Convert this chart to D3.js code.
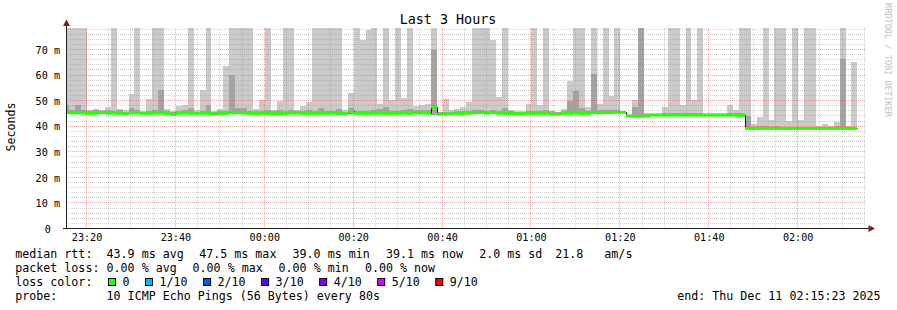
<!DOCTYPE html>
<html><head><meta charset="utf-8">
<script src="https://cdn.jsdelivr.net/npm/d3@7"></script>
<style>
html,body{margin:0;padding:0;background:#fff;}
svg{display:block;}
text{font-family:"DejaVu Sans Mono",monospace;white-space:pre;}
</style></head><body>
<svg id="chart" width="897" height="310"></svg>
<script>
// ---------- data ----------
const title = "Last 3 Hours";
const yAxisTitle = "Seconds";
const watermark = "RRDTOOL / TOBI OETIKER";
const viewStart = "2025-12-10T23:15:23Z";
const viewEnd = "2025-12-11T02:15:23Z";
const firstStep = "2025-12-10T23:14:47Z";
const stepSeconds = 80;
const yTop = 78.2; // ms at the top of the graph
const yTickValues = [0, 10, 20, 30, 40, 50, 60, 70];
const yTickLabels = ["0", "10 m", "20 m", "30 m", "40 m", "50 m", "60 m", "70 m"];
const xTickLabels = ["23:20", "23:40", "00:00", "00:20", "00:40", "01:00", "01:20", "01:40", "02:00"];

// per 80 s step, ms (100 = beyond the top of the graph)
const rttMedian = [45.3,45.2,45.2,45.1,45.0,45.0,45.3,45.1,45.1,45.0,
 44.8,45.2,45.2,45.0,45.0,45.1,45.1,45.0,44.6,45.0,
 45.1,45.0,45.0,45.1,45.0,44.7,45.0,45.0,45.2,45.3,
 45.2,45.0,44.9,45.0,45.0,44.9,44.9,45.0,45.2,45.1,
 45.0,45.0,45.0,45.0,45.0,45.1,44.9,44.8,45.6,45.0,
 45.0,45.0,45.0,45.1,45.0,45.0,45.0,45.1,45.0,45.2,
 45.2,45.0,47.5,44.7,44.8,44.8,45.0,45.0,45.0,45.3,
 45.3,45.1,45.3,45.1,45.0,44.9,44.9,44.9,45.0,45.0,
 45.0,45.1,44.7,44.7,45.0,45.0,45.1,45.0,45.0,45.3,
 45.2,45.3,45.3,45.4,45.4,43.9,43.9,43.9,43.9,44.3,
 44.3,44.3,44.3,44.3,44.3,44.3,44.3,44.3,44.3,44.3,
 44.3,44.3,44.3,44.3,44.1,39.1,39.1,39.1,39.1,39.1,
 39.1,39.1,39.0,39.1,39.1,39.1,39.1,39.1,39.1,39.1,
 39.1,39.1,39.1,39.1];
const rttMax = [100,100,100,100,46.2,46.4,46.0,47.3,100,46.6,
 46.0,52.4,100,45.9,50.3,100,100,46.4,45.6,47.8,
 48.0,100,46.0,54.0,100,45.8,46.4,63.3,100,100,
 100,100,46.5,50.0,100,46.2,49.8,100,100,46.1,
 47.6,49.3,100,100,100,100,100,46.2,52.8,100,
 73.7,77.5,100,48.5,100,50.0,100,51.0,100,47.7,
 48.0,48.3,100,45.5,50.4,46.0,46.4,47.4,49.3,100,
 100,100,73.7,51.3,100,46.2,45.8,45.8,48.5,100,
 48.2,100,45.9,45.4,46.4,57.6,100,100,47.4,100,
 48.5,100,51.7,100,45.9,44.6,50.0,100,45.0,44.8,
 44.8,47.4,100,100,48.0,100,50.0,100,44.8,44.8,
 44.8,44.8,48.2,46.1,100,100,40.7,43.5,100,42.2,
 100,100,42.0,100,42.2,100,100,39.9,40.7,39.9,
 41.3,100,39.8,64.9];
const rttP9 = [48.0,46.0,48.0,46.0,45.6,46.2,45.8,46.0,45.9,46.2,
 45.5,47.0,46.0,45.5,45.8,46.0,54.0,45.7,45.2,45.8,
 46.2,47.0,45.5,45.9,48.1,45.3,45.6,45.9,60.0,47.0,
 47.0,45.9,45.6,45.8,46.0,45.6,46.3,45.9,46.2,45.7,
 45.9,46.0,45.9,47.0,45.8,45.9,46.6,45.4,46.8,45.8,
 45.9,45.8,46.0,46.4,47.2,45.8,45.9,46.0,46.6,46.0,
 46.2,46.0,69.6,45.2,45.5,45.4,45.7,45.9,45.8,46.0,
 46.2,45.9,46.0,45.9,47.0,45.6,45.4,45.4,45.8,45.9,
 45.7,46.0,45.6,45.2,45.8,49.8,53.7,47.0,45.8,60.2,
 46.0,46.2,46.0,46.2,45.7,44.3,47.4,100,44.4,44.6,
 44.6,44.8,44.9,44.8,44.8,44.9,44.8,44.9,44.6,44.6,
 44.6,44.6,44.9,44.8,44.9,43.8,39.6,39.8,39.7,39.6,
 39.9,39.6,39.5,39.6,39.6,39.6,39.6,39.5,39.6,39.5,
 39.7,66.2,39.5,39.6];
const rttMin = [44.8,44.7,44.7,44.7,44.6,44.6,44.8,44.7,44.7,44.6,
 44.3,44.7,44.8,44.6,44.6,44.7,44.6,44.6,44.2,44.6,
 44.7,44.6,44.6,44.7,44.6,44.2,44.6,44.6,44.7,44.8,
 44.7,44.6,44.5,44.6,44.6,44.5,44.5,44.6,44.7,44.7,
 44.6,44.6,44.6,44.6,44.6,44.7,44.5,44.3,44.4,44.6,
 44.6,44.6,44.6,44.7,44.6,44.6,44.6,44.7,44.6,44.8,
 44.8,44.6,44.2,44.3,44.4,44.4,44.6,44.6,44.6,44.8,
 44.8,44.7,44.8,44.7,44.6,44.5,44.5,44.5,44.6,44.6,
 44.6,44.7,44.2,44.3,44.6,44.6,44.5,44.6,44.6,44.8,
 44.7,44.8,44.8,44.9,44.9,43.6,43.6,43.5,43.6,44.0,
 44.0,44.0,44.0,44.0,44.0,44.0,44.0,44.0,44.0,44.0,
 44.0,44.0,44.0,44.0,43.8,38.8,38.8,38.8,38.8,38.8,
 38.8,38.8,38.7,38.8,38.8,38.8,38.8,38.8,38.8,38.8,
 38.8,38.8,38.8,38.8];

const statsRtt = ["median rtt:", "43.9 ms avg", "47.5 ms max", "39.0 ms min", "39.1 ms now", "2.0 ms sd", "21.8   am/s"];
const statsLoss = ["packet loss:", "0.00 % avg", "0.00 % max", "0.00 % min", "0.00 % now"];
const lossTitle = "loss color:";
const lossLabels = ["0", "1/10", "2/10", "3/10", "4/10", "5/10", "9/10"];
const lossColors = ["#26ff00", "#00b8ff", "#0059ff", "#5e00ff", "#7e00ff", "#dd00ff", "#ff0000"];
const probeLine = ["probe:", "10 ICMP Echo Pings (56 Bytes) every 80s"];
const endLabel = "end: Thu Dec 11 02:15:23 2025";
const smokeColors = ["#cacaca", "#a4a4a4"];
const medianColor = "#26ff00";

// ---------- drawing ----------
const svg = d3.select("#chart");
const FONT_AX = 10.15, FONT_LEG = 11.65;
const L = 66, R = 866, TOP = 28, BOT = 228;
const x = d3.scaleUtc().domain([new Date(viewStart), new Date(viewEnd)]).range([L, R]);
const y = d3.scaleLinear().domain([0, yTop]).range([BOT + 0.5, TOP + 0.5]);
const px = v => Math.floor(v) + 0.5;
const rx = v => Math.round(v);
const ry = v => Math.round(v - 0.5);

const t0 = new Date(firstStep).getTime();
const stepMs = stepSeconds * 1000;
const steps = rttMedian.map((m, i) => ({
  a: new Date(t0 + i * stepMs), b: new Date(t0 + (i + 1) * stepMs),
  median: m, min: rttMin[i], p9: rttP9[i], max: rttMax[i]
}));

svg.append("rect").attr("width", 897).attr("height", 310).attr("fill", "#fff");

// clip
svg.append("clipPath").attr("id", "plot").append("rect")
  .attr("x", L + 1).attr("y", TOP).attr("width", R - L - 1).attr("height", BOT - TOP);
const plot = svg.append("g").attr("clip-path", "url(#plot)");

// smoke
const bandRect = (sel, top, bottom, col) => sel
  .attr("x", d => rx(x(d.a))).attr("width", d => rx(x(d.b)) - rx(x(d.a)))
  .attr("y", d => ry(y(top(d)))).attr("height", d => Math.max(1, ry(y(bottom(d))) - ry(y(top(d)))))
  .attr("fill", col).attr("shape-rendering", "crispEdges");
plot.append("g").selectAll("rect").data(steps).join("rect").call(bandRect, d => d.max, d => d.min, smokeColors[0]);
plot.append("g").selectAll("rect").data(steps).join("rect").call(bandRect, d => d.p9, d => d.min, smokeColors[1]);

// grid (drawn over the smoke, as rrdtool does)
const grid = svg.append("g");
const majorTimes = xTickLabels.map(s => {
  const [h, m] = s.split(":").map(Number);
  return new Date(Date.UTC(2025, 11, h >= 12 ? 10 : 11, h, m));
});
const minorTimes = d3.utcMinute.every(5).range(new Date(viewStart), new Date(viewEnd))
  .filter(d => d.getUTCMinutes() % 20 !== 0);
const minorVals = d3.range(2, yTop, 2).filter(v => v % 10 !== 0);
const majorVals = yTickValues.filter(v => v > 0);

const minorStyle = s => s.attr("stroke", "#8f8f8f").attr("stroke-opacity", 0.4).attr("stroke-width", 1).attr("stroke-dasharray", "1,1").attr("shape-rendering", "crispEdges");
const majorStyle = s => s.attr("stroke", "#de5050").attr("stroke-opacity", 0.5).attr("stroke-width", 1).attr("stroke-dasharray", "1,1").attr("shape-rendering", "crispEdges");

grid.selectAll(".hmin").data(minorVals).join("line")
  .attr("x1", L).attr("x2", R).attr("y1", d => px(y(d))).attr("y2", d => px(y(d))).call(minorStyle);
grid.selectAll(".vmin").data(minorTimes).join("line")
  .attr("y1", TOP).attr("y2", BOT).attr("x1", d => px(x(d))).attr("x2", d => px(x(d))).call(minorStyle);
grid.selectAll(".hmaj").data(majorVals).join("line")
  .attr("x1", L).attr("x2", R).attr("y1", d => px(y(d))).attr("y2", d => px(y(d))).call(majorStyle);
grid.selectAll(".vmaj").data(majorTimes).join("line")
  .attr("y1", TOP).attr("y2", BOT).attr("x1", d => px(x(d))).attr("x2", d => px(x(d))).call(majorStyle);

// median dark line
const plot2 = svg.append("g").attr("clip-path", "url(#plot)");
const pts = steps.map(d => [d.a, d.median]).concat([[steps[steps.length - 1].b, steps[steps.length - 1].median]]);
plot2.append("path")
  .attr("d", d3.line().x(d => rx(x(d[0])) + 0.5).y(d => px(y(d[1]))).curve(d3.curveStepAfter)(pts))
  .attr("fill", "none").attr("stroke", "#202020").attr("stroke-width", 1);
// median loss-colour band
plot2.append("g").selectAll("rect").data(steps).join("rect")
  .attr("x", d => rx(x(d.a))).attr("width", d => rx(x(d.b)) - rx(x(d.a)))
  .attr("y", d => y(d.median) - 1.4).attr("height", 2.8)
  .attr("fill", medianColor);

// axes lines + arrows
svg.append("line").attr("x1", 63).attr("x2", 869).attr("y1", BOT + 0.5).attr("y2", BOT + 0.5)
  .attr("stroke", "#1f1f1f").attr("shape-rendering", "crispEdges");
svg.append("line").attr("x1", L + 0.5).attr("x2", L + 0.5).attr("y1", BOT + 1).attr("y2", 24)
  .attr("stroke", "#1f1f1f").attr("shape-rendering", "crispEdges");
svg.append("path").attr("d", `M${L + 0.5},19.5 L${L - 3},26 L${L + 4},26 Z`).attr("fill", "#801f1f");
svg.append("path").attr("d", `M875,${BOT + 0.5} L868.5,${BOT - 3} L868.5,${BOT + 4} Z`).attr("fill", "#801f1f");

// x axis labels
const gx = svg.append("g").attr("transform", `translate(0,${241})`)
  .call(d3.axisBottom(x).tickValues(majorTimes).tickFormat((d, i) => xTickLabels[i]).tickSize(0).tickPadding(0));
gx.select(".domain").remove();
gx.selectAll("text").attr("y", 0).attr("dy", null)
  .attr("font-family", "DejaVu Sans Mono").attr("font-size", FONT_AX).attr("fill", "#000");

// y axis labels
const gy = svg.append("g").attr("transform", "translate(47.8,0)")
  .call(d3.axisLeft(y).tickValues(yTickValues).tickFormat((d, i) => yTickLabels[i]).tickSize(0).tickPadding(0));
gy.select(".domain").remove();
gy.selectAll("text").attr("x", 0).attr("dy", "0.36em").attr("text-anchor", "middle")
  .attr("font-family", "DejaVu Sans Mono").attr("font-size", FONT_AX).attr("fill", "#000");

// titles
svg.append("text").attr("x", 448).attr("y", 24).attr("text-anchor", "middle")
  .attr("font-size", 13.4).attr("fill", "#000").text(title);
svg.append("text").attr("transform", "translate(15,127) rotate(-90)").attr("text-anchor", "middle")
  .attr("font-size", FONT_LEG).attr("fill", "#000").text(yAxisTitle);
svg.append("text").attr("transform", "translate(885,3) rotate(90)")
  .attr("font-size", 8.6).attr("fill", "#c4c4c4").text(watermark);

// legend
const leg = svg.append("g").attr("font-size", FONT_LEG).attr("fill", "#000");
const rttX = [15.3, 106.6, 199.3, 292.6, 386, 479.3, 555.3];
statsRtt.forEach((s, i) => leg.append("text").attr("x", rttX[i]).attr("y", 258).text(s));
const lossX = [15.3, 106.6, 192.6, 278.6, 365];
statsLoss.forEach((s, i) => leg.append("text").attr("x", lossX[i]).attr("y", 272).text(s));
leg.append("text").attr("x", 15.3).attr("y", 286).text(lossTitle);
let bx = 108;
lossLabels.forEach((lab, i) => {
  leg.append("rect").attr("x", bx + 0.5).attr("y", 278.5).attr("width", 7).attr("height", 7)
    .attr("fill", lossColors[i]).attr("stroke", "#000").attr("stroke-width", 1);
  const t = leg.append("text").attr("x", bx + 14.5).attr("y", 286).text(lab);
  bx = bx + 15 + t.node().getComputedTextLength() + 15;
});
leg.append("text").attr("x", 15.3).attr("y", 300).text(probeLine[0]);
leg.append("text").attr("x", 106.6).attr("y", 300).text(probeLine[1]);
leg.append("text").attr("x", 880.5).attr("y", 300).attr("text-anchor", "end").text(endLabel);
</script>
</body></html>
